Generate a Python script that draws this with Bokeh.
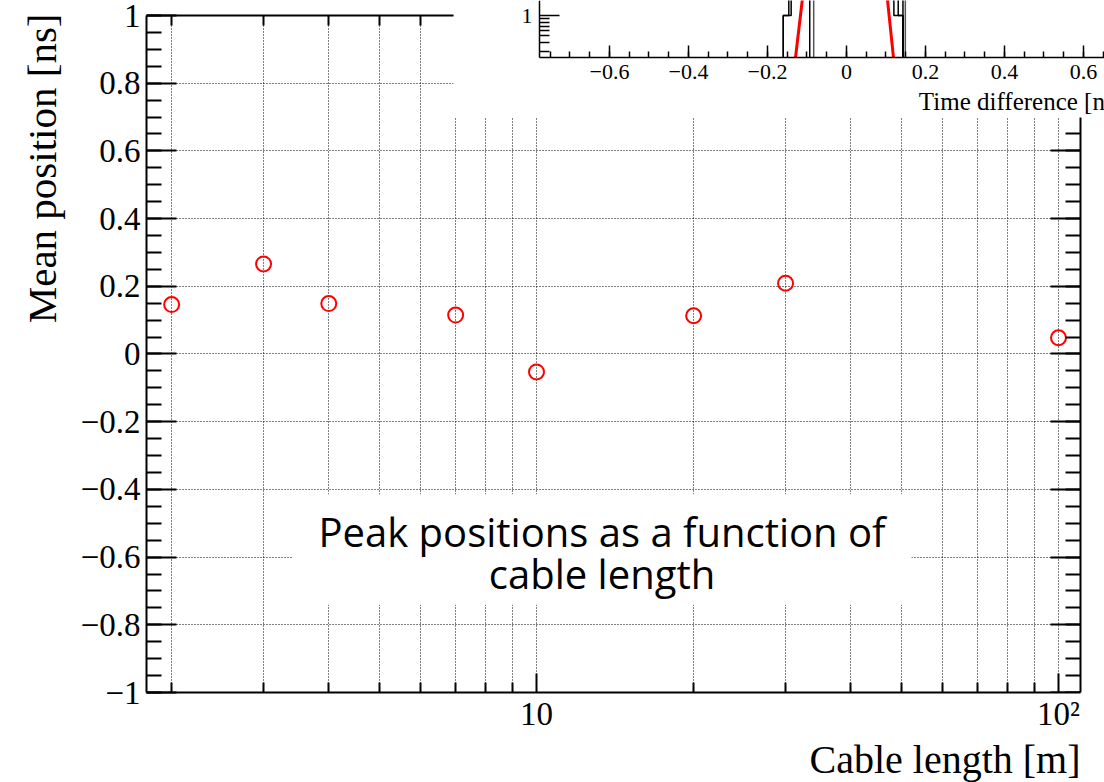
import numpy as np
from bokeh.plotting import figure
from bokeh.models import (Range1d, LogScale, LinearScale, LinearAxis, LogAxis,
                          FixedTicker, Label, Title, CustomJSTickFormatter)
from bokeh.embed import file_html
from bokeh.resources import INLINE

# ---------------- data ----------------
cable_length_m = [2, 3, 4, 7, 10, 20, 30, 100]
mean_position_ns = [0.146, 0.266, 0.149, 0.115, -0.053, 0.113, 0.209, 0.048]

x_major_ticks = [10, 100]
x_major_labels = ["10", "10²"]
x_minor_ticks = [2, 3, 4, 5, 6, 7, 8, 9, 20, 30, 40, 50, 60, 70, 80, 90]
y_major_ticks = [-1.0, -0.8, -0.6, -0.4, -0.2, 0.0, 0.2, 0.4, 0.6, 0.8, 1.0]
y_major_labels = ["−1", "−0.8", "−0.6", "−0.4", "−0.2", "0", "0.2", "0.4", "0.6", "0.8", "1"]
y_minor_ticks = np.round(np.arange(-1.0, 1.0001, 0.05), 2).tolist()
x_title = "Cable length [m]"
y_title = "Mean position [ns]"

# inset (time-difference histograms, only their lower part is visible)
inset_x_major = [-0.6, -0.4, -0.2, 0.0, 0.2, 0.4, 0.6]
inset_x_labels = ["−0.6", "−0.4", "−0.2", "0", "0.2", "0.4", "0.6"]
inset_x_minor = np.round(np.arange(-0.75, 0.70, 0.05), 2).tolist()
inset_y_major = [1]
inset_y_labels = ["1"]
inset_y_minor = [0.3, 0.4, 0.5, 0.6, 0.7, 0.8, 0.9]
inset_title = "Time difference [ns]"
hist1_edges = [-0.160, -0.146, -0.10, -0.05, 0.0, 0.05, 0.10, 0.120, 0.143]
hist1_counts = [1, 6, 150, 560, 520, 130, 5, 1]
hist2_edges = [-0.160, -0.140, -0.10, -0.05, 0.0, 0.05, 0.10, 0.131, 0.143]
hist2_counts = [1, 9, 170, 600, 540, 140, 8, 1]
hist3_edges = [-0.093, -0.05, 0.0, 0.05, 0.10, 0.143]
hist3_counts = [40, 650, 610, 60, 3]
hist4_edges = [-0.083, -0.05, 0.0, 0.05, 0.10, 0.149]
hist4_counts = [30, 700, 640, 50, 2]
fit_t = [-0.129, -0.112, -0.10, -0.05, 0.0, 0.05, 0.09, 0.104, 0.119]
fit_v = [0.241, 1.66, 6.5, 250, 700, 150, 6.5, 1.66, 0.241]

caption = "Peak positions as a function of\ncable length"

# ---------------- layout constants ----------------
X_RANGE = (1.79, 122.5)        # frame spans to right canvas edge
X_AXIS = (1.79, 110.2)         # visible extent of main x axis
Y_RANGE = (-1.0, 1.0443)
Y_AXIS = (-1.0, 1.0)
INSET_T_RANGE = (-1.772, 0.6532)
INSET_V_RANGE = (1.107e-10, 1.662)
INSET_T_AXIS = (-0.777, 0.70)
INSET_V_FLOOR = 0.241
INSET_BOX = dict(left=-0.995, right=1.0, bottom=0.0316, top=10.0)
TOP_AXIS_END = 6.93
RIGHT_AXIS_TOP = 0.6987
SERIF = "Liberation Serif"
TICK_FONT = 33

p = figure(width=1104, height=782, x_axis_type="log",
           x_range=Range1d(*X_RANGE), y_range=Range1d(*Y_RANGE),
           output_backend="svg", toolbar_location=None,
           min_border_left=146, min_border_right=0, min_border_top=0,
           min_border_bottom=90)
p.outline_line_color = None
p.background_fill_color = "white"
p.border_fill_color = "white"


def style_axis(ax, major_len, minor_len, font_px):
    ax.axis_line_color = "black"
    ax.axis_line_width = 2
    ax.major_tick_line_color = "black"
    ax.major_tick_line_width = 2
    ax.minor_tick_line_color = "black"
    ax.minor_tick_line_width = 2
    ax.major_tick_in = major_len
    ax.major_tick_out = 0
    ax.minor_tick_in = minor_len
    ax.minor_tick_out = 0
    ax.major_label_text_font = SERIF
    ax.major_label_text_font_size = f"{font_px}px"
    ax.major_label_text_color = "black"


x_ticker = FixedTicker(ticks=x_major_ticks, minor_ticks=x_minor_ticks)
y_ticker = FixedTicker(ticks=y_major_ticks, minor_ticks=y_minor_ticks)

# main bottom axis
xa = p.below[0]
xa.ticker = x_ticker
xa.bounds = X_AXIS
xa.major_label_overrides = dict(zip(x_major_ticks, x_major_labels))
style_axis(xa, 19, 10, TICK_FONT)
xa.major_label_standoff = 3

# main left axis
ya = p.left[0]
ya.ticker = y_ticker
ya.bounds = Y_AXIS
ya.major_label_overrides = dict(zip(y_major_ticks, y_major_labels))
style_axis(ya, 30, 15, TICK_FONT)
ya.major_label_standoff = 6

# axis titles, aligned to the axis ends as in the original
p.add_layout(Title(text=x_title, align="right", offset=24, standoff=0,
                   text_font=SERIF, text_font_size="40px",
                   text_font_style="normal", text_color="black"), "below")
p.add_layout(Title(text=y_title, align="right", offset=13, standoff=26,
                   text_font=SERIF, text_font_size="41px",
                   text_font_style="normal", text_color="black"), "left")

# top and right frame axes (ticks only, they end where the inset begins)
top_axis = LogAxis(ticker=FixedTicker(ticks=[t for t in x_major_ticks if t <= TOP_AXIS_END],
                                      minor_ticks=[t for t in x_minor_ticks if t <= TOP_AXIS_END]),
                   fixed_location=Y_AXIS[1], bounds=(X_AXIS[0], TOP_AXIS_END),
                   formatter=CustomJSTickFormatter(code="return ''"))
style_axis(top_axis, 19, 10, TICK_FONT)
p.add_layout(top_axis, "above")

right_axis = LinearAxis(ticker=FixedTicker(ticks=[t for t in y_major_ticks if t <= RIGHT_AXIS_TOP],
                                           minor_ticks=[t for t in y_minor_ticks if t <= RIGHT_AXIS_TOP]),
                        fixed_location=X_AXIS[1], bounds=(Y_AXIS[0], RIGHT_AXIS_TOP),
                        formatter=CustomJSTickFormatter(code="return ''"))
style_axis(right_axis, 30, 15, TICK_FONT)
p.add_layout(right_axis, "right")

# grids
for g in (p.xgrid[0], p.ygrid[0]):
    g.grid_line_color = "black"
    g.grid_line_dash = "1 2"
    g.grid_line_width = 1
    g.grid_line_alpha = 1.0
p.xgrid[0].ticker = x_ticker
p.xgrid[0].minor_grid_line_color = "black"
p.xgrid[0].minor_grid_line_dash = "1 2"
p.xgrid[0].minor_grid_line_alpha = 1.0
p.xgrid[0].cross_bounds = Y_AXIS
p.ygrid[0].ticker = y_ticker
p.ygrid[0].cross_bounds = X_AXIS

# data points
p.scatter(cable_length_m, mean_position_ns, marker="circle", size=15,
          fill_color=None, line_color="red", line_width=2)

# ---------------- inset ----------------
p.extra_x_ranges = {"ix": Range1d(*INSET_T_RANGE)}
p.extra_y_ranges = {"iy": Range1d(*INSET_V_RANGE)}
p.extra_x_scales = {"ix": LinearScale()}
p.extra_y_scales = {"iy": LogScale()}

p.quad(x_range_name="ix", y_range_name="iy", fill_color="white",
       line_color=None, **{k: [v] for k, v in INSET_BOX.items()})


def step_outline(edges, counts):
    xs, ys = [edges[0]], [INSET_V_FLOOR]
    for i, c in enumerate(counts):
        v = max(c, INSET_V_FLOOR)
        xs += [edges[i], edges[i + 1]]
        ys += [v, v]
    xs.append(edges[-1])
    ys.append(INSET_V_FLOOR)
    return xs, ys


for edges, counts, col in ((hist1_edges, hist1_counts, "black"),
                           (hist2_edges, hist2_counts, "black"),
                           (hist3_edges, hist3_counts, "black"),
                           (hist4_edges, hist4_counts, "#555555")):
    hx, hy = step_outline(edges, counts)
    p.line(hx, hy, x_range_name="ix", y_range_name="iy", line_color=col,
           line_width=1.5)
p.line(fit_t, fit_v, x_range_name="ix", y_range_name="iy", line_color="red",
       line_width=3)

ix_axis = LinearAxis(x_range_name="ix", y_range_name="iy",
                     fixed_location=INSET_V_FLOOR, bounds=INSET_T_AXIS,
                     ticker=FixedTicker(ticks=inset_x_major, minor_ticks=inset_x_minor))
ix_axis.major_label_overrides = dict(zip(inset_x_major, inset_x_labels))
style_axis(ix_axis, 12, 6, 22)
ix_axis.axis_line_width = 1.5
ix_axis.major_tick_line_width = 1.5
ix_axis.minor_tick_line_width = 1.5
ix_axis.major_label_standoff = 7
p.add_layout(ix_axis, "below")

iy_axis = LogAxis(x_range_name="ix", y_range_name="iy",
                  fixed_location=INSET_T_AXIS[0], bounds=(INSET_V_FLOOR, 1.7),
                  ticker=FixedTicker(ticks=inset_y_major, minor_ticks=inset_y_minor))
iy_axis.major_label_overrides = dict(zip(inset_y_major, inset_y_labels))
style_axis(iy_axis, 20, 10, 22)
iy_axis.axis_line_width = 1.5
iy_axis.major_tick_line_width = 1.5
iy_axis.minor_tick_line_width = 1.5
iy_axis.major_label_standoff = 7
p.add_layout(iy_axis, "left")

p.add_layout(Label(x=INSET_T_AXIS[1], y=0.054, x_range_name="ix", y_range_name="iy",
                   text=inset_title, text_align="right",
                   text_baseline="alphabetic", text_font=SERIF,
                   text_font_size="25px", text_color="black"))

# caption (padding order: left, right, top, bottom)
p.add_layout(Label(x=13.35, y=-0.5775, text=caption, text_align="center",
                   text_baseline="middle", text_font="Open Sans",
                   text_font_size="40px", text_line_height=0.753,
                   text_color="black", background_fill_color="white",
                   padding=(26, 26, 10, 4)))

open("out.html", "w").write(file_html(p, INLINE))
